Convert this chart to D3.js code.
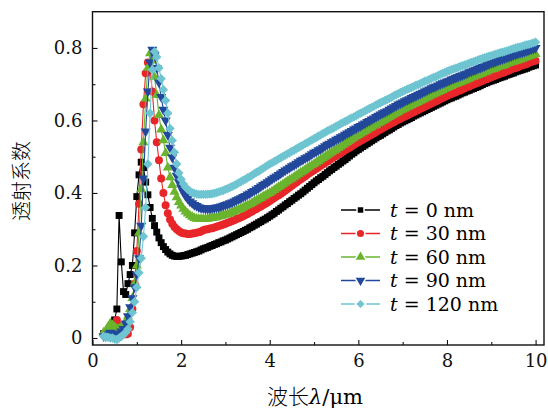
<!DOCTYPE html>
<html>
<head>
<meta charset="utf-8">
<script src="https://cdn.jsdelivr.net/npm/d3@7"></script>
<style>
  body { margin: 0; background: #fff; }
  svg { display: block; }
  .tick text { font-family: "DejaVu Serif", serif; font-size: 18px; fill: #111; }
</style>
</head>
<body>
<div id="stage"></div>
<script>
// wavelength grid (um), 0.05 step
var wavelength = [
  0.25, 0.30, 0.35, 0.40, 0.45, 0.50, 0.55, 0.60, 0.65, 0.70, 0.75, 0.80, 0.85, 0.90, 0.95,
  1.00, 1.05, 1.10, 1.15, 1.20, 1.25, 1.30, 1.35, 1.40, 1.45, 1.50, 1.55, 1.60, 1.65, 1.70,
  1.75, 1.80, 1.85, 1.90, 1.95, 2.00, 2.05, 2.10, 2.15, 2.20, 2.25, 2.30, 2.35, 2.40, 2.45,
  2.50, 2.55, 2.60, 2.65, 2.70, 2.75, 2.80, 2.85, 2.90, 2.95,
  3.00, 3.05, 3.10, 3.15, 3.20, 3.25, 3.30, 3.35, 3.40, 3.45,
  3.50, 3.55, 3.60, 3.65, 3.70, 3.75, 3.80, 3.85, 3.90, 3.95,
  4.00, 4.05, 4.10, 4.15, 4.20, 4.25, 4.30, 4.35, 4.40, 4.45,
  4.50, 4.55, 4.60, 4.65, 4.70, 4.75, 4.80, 4.85, 4.90, 4.95,
  5.00, 5.05, 5.10, 5.15, 5.20, 5.25, 5.30, 5.35, 5.40, 5.45,
  5.50, 5.55, 5.60, 5.65, 5.70, 5.75, 5.80, 5.85, 5.90, 5.95,
  6.00, 6.05, 6.10, 6.15, 6.20, 6.25, 6.30, 6.35, 6.40, 6.45,
  6.50, 6.55, 6.60, 6.65, 6.70, 6.75, 6.80, 6.85, 6.90, 6.95,
  7.00, 7.05, 7.10, 7.15, 7.20, 7.25, 7.30, 7.35, 7.40, 7.45,
  7.50, 7.55, 7.60, 7.65, 7.70, 7.75, 7.80, 7.85, 7.90, 7.95,
  8.00, 8.05, 8.10, 8.15, 8.20, 8.25, 8.30, 8.35, 8.40, 8.45,
  8.50, 8.55, 8.60, 8.65, 8.70, 8.75, 8.80, 8.85, 8.90, 8.95,
  9.00, 9.05, 9.10, 9.15, 9.20, 9.25, 9.30, 9.35, 9.40, 9.45,
  9.50, 9.55, 9.60, 9.65, 9.70, 9.75, 9.80, 9.85, 9.90, 9.95,
  10.0
];

var t0 = [
  .012, .010, .012, .020, .030, .050, .080, .338, .210, .128, .120, .150, .175, .200, .290,
  .390, .450, .485, .470, .430, .395, .360, .330, .310, .292, .276, .263, .252, .244, .237,
  .232, .228, .226, .225, .225, .226, .227, .228, .230, .232, .234, .236, .238, .240, .243,
  .246, .248, .250, .253, .255, .258, .260, .263, .265, .268,
  .270, .273, .276, .279, .282, .285, .288, .291, .294, .297,
  .300, .304, .307, .311, .314, .318, .321, .325, .328, .332,
  .336, .340, .344, .349, .353, .358, .362, .367, .371, .376,
  .380, .385, .389, .394, .398, .403, .408, .413, .418, .423,
  .428, .433, .437, .442, .446, .451, .456, .461, .465, .470,
  .474, .479, .483, .488, .492, .497, .502, .507, .511, .516,
  .520, .524, .528, .532, .536, .540, .544, .548, .552, .556,
  .559, .563, .567, .571, .574, .578, .582, .586, .589, .593,
  .596, .599, .602, .605, .608, .612, .615, .618, .621, .624,
  .627, .630, .633, .636, .639, .642, .645, .648, .651, .654,
  .657, .660, .662, .665, .667, .670, .673, .676, .678, .681,
  .683, .686, .688, .691, .693, .696, .699, .702, .704, .707,
  .709, .711, .713, .716, .718, .720, .722, .725, .727, .729,
  .731, .734, .736, .738, .740, .742, .744, .747, .749, .751,
  .753
];

var t30 = [
  .010, .008, .010, .015, .025, .040, .050, .035, .020, .012, .010, .012, .030, .080, .150,
  .240, .370, .520, .645, .730, .760, .740, .680, .600, .540, .490, .440, .400, .366, .344,
  .327, .315, .306, .300, .295, .291, .289, .288, .287, .287, .288, .289, .290, .292, .294,
  .297, .299, .300, .302, .303, .305, .307, .309, .311, .313,
  .315, .318, .320, .323, .325, .328, .330, .333, .336, .339,
  .342, .346, .349, .353, .356, .360, .363, .367, .370, .374,
  .378, .382, .386, .390, .394, .398, .402, .407, .411, .416,
  .420, .425, .429, .434, .438, .442, .446, .451, .455, .459,
  .463, .467, .471, .475, .479, .483, .487, .491, .495, .499,
  .503, .507, .510, .514, .518, .522, .525, .529, .533, .537,
  .540, .544, .547, .551, .554, .558, .561, .565, .568, .572,
  .575, .579, .582, .586, .589, .592, .595, .599, .602, .605,
  .608, .611, .614, .617, .620, .623, .626, .629, .632, .635,
  .638, .641, .644, .647, .650, .653, .656, .659, .662, .665,
  .668, .671, .673, .676, .678, .681, .683, .686, .689, .692,
  .694, .697, .699, .702, .704, .707, .709, .712, .714, .717,
  .719, .722, .724, .727, .729, .731, .733, .736, .738, .741,
  .743, .745, .747, .750, .752, .754, .756, .759, .761, .763,
  .765
];

var t60 = [
  .015, .020, .030, .040, .035, .030, .025, .025, .030, .035, .045, .060, .080, .110, .150,
  .200, .290, .410, .540, .660, .745, .785, .765, .720, .670, .615, .575, .545, .510, .470,
  .443, .422, .403, .388, .375, .365, .356, .349, .343, .338, .334, .331, .329, .328, .328,
  .328, .328, .329, .330, .331, .332, .333, .335, .336, .338,
  .340, .342, .344, .347, .349, .352, .354, .357, .360, .363,
  .366, .369, .372, .376, .379, .383, .386, .390, .393, .397,
  .400, .404, .408, .412, .416, .420, .424, .428, .432, .436,
  .440, .444, .448, .452, .456, .460, .464, .468, .472, .476,
  .480, .484, .488, .492, .496, .500, .504, .508, .512, .516,
  .520, .524, .528, .532, .536, .540, .544, .548, .552, .556,
  .560, .564, .567, .571, .574, .578, .581, .585, .588, .592,
  .595, .599, .602, .606, .609, .613, .616, .620, .623, .627,
  .630, .633, .636, .639, .642, .645, .648, .651, .654, .657,
  .660, .663, .666, .669, .672, .675, .678, .681, .684, .687,
  .690, .693, .695, .698, .700, .703, .705, .708, .710, .713,
  .715, .718, .720, .723, .725, .728, .730, .733, .735, .738,
  .740, .742, .744, .747, .749, .751, .753, .756, .758, .760,
  .762, .764, .766, .768, .770, .773, .775, .777, .779, .781,
  .783
];

var t90 = [
  .005, .005, .010, .015, .012, .010, .010, .012, .018, .025, .040, .060, .085, .110, .140,
  .175, .220, .310, .440, .570, .680, .760, .795, .780, .745, .705, .665, .630, .600, .560,
  .525, .498, .470, .448, .430, .415, .402, .392, .384, .377, .372, .367, .364, .361, .359,
  .358, .357, .357, .357, .358, .359, .360, .361, .363, .365,
  .367, .369, .372, .374, .377, .380, .383, .386, .389, .392,
  .396, .399, .403, .406, .410, .414, .418, .422, .426, .430,
  .434, .438, .442, .446, .450, .454, .458, .462, .466, .470,
  .474, .477, .481, .485, .489, .492, .496, .499, .503, .507,
  .511, .514, .518, .521, .525, .529, .533, .536, .540, .543,
  .547, .550, .554, .557, .561, .564, .568, .571, .575, .578,
  .582, .585, .589, .592, .596, .599, .603, .606, .610, .613,
  .617, .620, .623, .626, .630, .633, .637, .640, .644, .647,
  .650, .653, .656, .659, .662, .665, .668, .671, .674, .677,
  .680, .683, .686, .689, .692, .694, .697, .700, .703, .705,
  .708, .710, .713, .715, .718, .720, .723, .725, .728, .730,
  .733, .735, .738, .740, .743, .745, .748, .750, .753, .755,
  .758, .760, .762, .765, .767, .769, .771, .773, .775, .777,
  .780, .782, .784, .786, .788, .790, .792, .794, .796, .798,
  .800
];

var t120 = [
  .005, .003, .002, .000, .000, -.003, -.004, .000, .004, .010, .015, .025, .045, .070, .100,
  .140, .180, .220, .280, .360, .480, .620, .740, .790, .775, .745, .715, .685, .655, .620,
  .578, .545, .512, .480, .455, .438, .425, .416, .410, .405, .401, .399, .397, .396, .396,
  .396, .396, .397, .397, .398, .399, .401, .403, .405, .407,
  .410, .412, .415, .418, .421, .424, .428, .431, .435, .438,
  .442, .445, .449, .453, .457, .460, .464, .468, .472, .476,
  .480, .483, .487, .490, .494, .497, .501, .504, .508, .511,
  .515, .518, .522, .525, .529, .532, .536, .539, .543, .546,
  .550, .553, .557, .560, .564, .567, .571, .574, .577, .580,
  .584, .587, .591, .594, .597, .600, .604, .607, .610, .613,
  .617, .620, .623, .626, .630, .633, .636, .639, .643, .646,
  .649, .652, .655, .658, .661, .664, .668, .671, .674, .677,
  .680, .683, .686, .688, .691, .694, .697, .699, .702, .705,
  .708, .710, .713, .716, .719, .721, .724, .727, .730, .732,
  .735, .737, .740, .742, .744, .746, .749, .751, .753, .755,
  .758, .760, .762, .764, .767, .769, .771, .773, .775, .777,
  .779, .781, .783, .785, .787, .788, .790, .792, .794, .796,
  .798, .800, .802, .803, .805, .807, .809, .810, .812, .814,
  .816
];

var thickness = ['0', '30', '60', '90', '120'];
var seriesValues = [t0, t30, t60, t90, t120];
var colors = ['#000000', '#e8262a', '#6ab42e', '#22489b', '#6ec5d1'];

var xMajor = [0, 2, 4, 6, 8, 10];
var xMinor = [1, 3, 5, 7, 9];
var yMajor = [0, 0.2, 0.4, 0.6, 0.8];
var yMinor = [0.1, 0.3, 0.5, 0.7];

(function(d3) {
    'use strict';

    var width = 548, height = 410;
    var plotLeft = 92.5, plotRight = 544, plotTop = 11.7, plotBottom = 345;

    // square, circle, triangle up, triangle down, diamond
    var markers = [
        { type: d3.symbolSquare, size: 48, rot: 0 },
        { type: d3.symbolCircle, size: 50, rot: 0 },
        { type: d3.symbolTriangle, size: 44, rot: 0 },
        { type: d3.symbolTriangle, size: 44, rot: 180 },
        { type: d3.symbolSquare, size: 44, rot: 45 }
    ];

    var svg = d3.select('#stage').append('svg')
        .attr('width', width)
        .attr('height', height);

    var x = d3.scaleLinear().domain([0, 10.19]).range([plotLeft, plotRight]);
    var y = d3.scaleLinear().domain([-0.0193, 0.9]).range([plotBottom, plotTop]);

    function place(px, py, m) {
        return 'translate(' + px + ',' + py + ')' + (m.rot ? ' rotate(' + m.rot + ')' : '');
    }

    // series, black first so cyan ends on top
    seriesValues.forEach(function(vals, i) {
        var m = markers[i];
        var pts = wavelength.map(function(w, j) { return [w, vals[j]]; });
        var g = svg.append('g').attr('class', 'series');
        g.append('path')
            .datum(pts)
            .attr('fill', 'none')
            .attr('stroke', colors[i])
            .attr('stroke-width', 1.1)
            .attr('d', d3.line()
                .x(function(d) { return x(d[0]); })
                .y(function(d) { return y(d[1]); }));
        g.selectAll('path.m')
            .data(pts)
            .enter()
            .append('path')
            .attr('class', 'm')
            .attr('d', d3.symbol(m.type, m.size)())
            .attr('transform', function(d) { return place(x(d[0]), y(d[1]), m); })
            .attr('fill', colors[i]);
    });

    // axes, ticks pointing inward
    var gx = svg.append('g').attr('transform', 'translate(0,' + plotBottom + ')');
    gx.call(d3.axisBottom(x).tickValues(xMajor).tickSize(-5).tickPadding(9).tickFormat(d3.format('d')));
    gx.append('g').call(d3.axisBottom(x).tickValues(xMinor).tickSize(-3).tickFormat(''));

    var gy = svg.append('g').attr('transform', 'translate(' + plotLeft + ',0)');
    gy.call(d3.axisLeft(y).tickValues(yMajor).tickSize(-5).tickPadding(10)
        .tickFormat(function(d) { return d === 0 ? '0' : d3.format('.1f')(d); }));
    gy.append('g').call(d3.axisLeft(y).tickValues(yMinor).tickSize(-3).tickFormat(''));

    svg.selectAll('.domain').remove();
    svg.selectAll('.tick line').attr('stroke', '#111').attr('stroke-width', 1.1);

    svg.append('rect')
        .attr('x', plotLeft).attr('y', plotTop)
        .attr('width', plotRight - plotLeft).attr('height', plotBottom - plotTop)
        .attr('fill', 'none')
        .attr('stroke', '#111')
        .attr('stroke-width', 1.4);

    // axis titles
    svg.append('text')
        .attr('transform', 'translate(29,181) rotate(-90)')
        .attr('text-anchor', 'middle')
        .style('font-family', '"Noto Sans CJK SC", sans-serif')
        .style('font-size', '20px')
        .style('font-weight', 300)
        .text('透射系数');

    var xt = svg.append('text')
        .attr('x', 315).attr('y', 404)
        .attr('text-anchor', 'middle')
        .style('font-size', '21px');
    xt.append('tspan').style('font-family', '"Noto Sans CJK SC", sans-serif').style('font-weight', 300).text('波长');
    xt.append('tspan').style('font-family', '"DejaVu Serif", serif').style('font-style', 'italic').text('λ');
    xt.append('tspan').style('font-family', '"DejaVu Serif", serif').text('/μm');

    // legend
    var legendSizes = [30, 40, 40, 40, 34];
    var legend = svg.append('g');
    thickness.forEach(function(t, i) {
        var ly = 210 + i * 23.5;
        var m = markers[i];
        legend.append('line')
            .attr('x1', 341).attr('x2', 380)
            .attr('y1', ly).attr('y2', ly)
            .attr('stroke', colors[i]).attr('stroke-width', 1.3);
        legend.append('path')
            .attr('d', d3.symbol(m.type, legendSizes[i])())
            .attr('transform', place(360.5, ly, m))
            .attr('fill', colors[i])
            .attr('stroke', '#fff')
            .attr('stroke-width', 3)
            .style('paint-order', 'stroke');
        var tx = legend.append('text')
            .attr('x', 390).attr('y', ly + 6.5)
            .style('font-family', '"DejaVu Serif", serif')
            .style('font-size', '19px');
        tx.append('tspan').style('font-style', 'italic').text('t');
        tx.append('tspan').text(' = ' + t + ' nm');
    });
})(window.d3);
</script>
</body>
</html>
